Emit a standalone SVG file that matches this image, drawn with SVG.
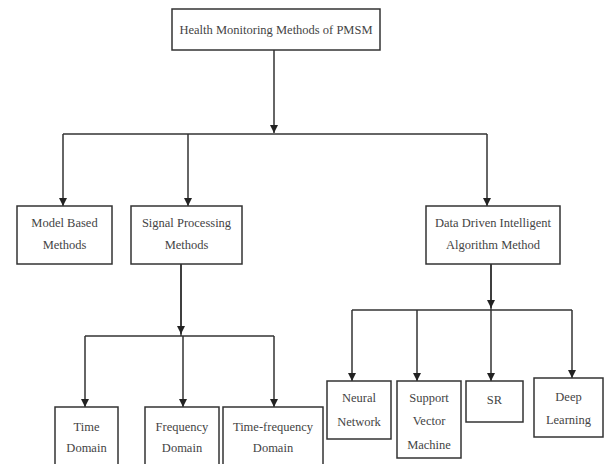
<svg xmlns="http://www.w3.org/2000/svg" width="604" height="464" viewBox="0 0 604 464">
<defs>
<marker id="arr" markerUnits="userSpaceOnUse" markerWidth="8" markerHeight="8" viewBox="0 0 8 8" refX="8" refY="4" orient="auto">
<path d="M0,0 L8,4 L0,8 Z" fill="#222"/>
</marker>
<style>
.box{fill:#fff;stroke:#333;stroke-width:1.5}
.t{font-family:"Liberation Serif","Times New Roman",serif;font-size:12.5px;fill:#444;text-anchor:middle}
.c{fill:none;stroke:#333;stroke-width:1.5}
</style>
</defs>
<rect width="604" height="464" fill="#fff"/>
<g id="connectors">
<path class="c" d="M274,50 V133" marker-end="url(#arr)"/>
<path class="c" d="M63,134 H487"/>
<path class="c" d="M63,134 V206" marker-end="url(#arr)"/>
<path class="c" d="M188,134 V206" marker-end="url(#arr)"/>
<path class="c" d="M487,134 V206" marker-end="url(#arr)"/>
<path class="c" d="M181,264 V336"/>
<path class="c" d="M181,264 V334" marker-end="url(#arr)"/>
<path class="c" d="M85,336 H274"/>
<path class="c" d="M85,336 V407" marker-end="url(#arr)"/>
<path class="c" d="M183,336 V407" marker-end="url(#arr)"/>
<path class="c" d="M274,336 V407" marker-end="url(#arr)"/>
<path class="c" d="M491,264 V310"/>
<path class="c" d="M491,264 V308" marker-end="url(#arr)"/>
<path class="c" d="M352,310 H572"/>
<path class="c" d="M352,310 V381" marker-end="url(#arr)"/>
<path class="c" d="M417,310 V381" marker-end="url(#arr)"/>
<path class="c" d="M491,310 V381" marker-end="url(#arr)"/>
<path class="c" d="M572,310 V378" marker-end="url(#arr)"/>
</g>
<g id="root">
<rect class="box" x="172" y="9" width="208" height="41"/>
<text class="t" x="276" y="34">Health Monitoring Methods of PMSM</text>
</g>
<g id="model">
<rect class="box" x="17" y="206" width="95" height="58"/>
<text class="t" x="64.5" y="227">Model Based</text>
<text class="t" x="64.5" y="249">Methods</text>
</g>
<g id="signal">
<rect class="box" x="131" y="206" width="111" height="58"/>
<text class="t" x="186.5" y="227">Signal Processing</text>
<text class="t" x="186.5" y="249">Methods</text>
</g>
<g id="data">
<rect class="box" x="426" y="206" width="134" height="58"/>
<text class="t" x="493" y="227">Data Driven Intelligent</text>
<text class="t" x="493" y="249">Algorithm Method</text>
</g>
<g id="time">
<rect class="box" x="55" y="407" width="63" height="64"/>
<text class="t" x="86.5" y="431">Time</text>
<text class="t" x="86.5" y="452">Domain</text>
</g>
<g id="freq">
<rect class="box" x="145" y="407" width="74" height="64"/>
<text class="t" x="182" y="431">Frequency</text>
<text class="t" x="182" y="452">Domain</text>
</g>
<g id="timefreq">
<rect class="box" x="223" y="407" width="100" height="64"/>
<text class="t" x="273" y="431">Time-frequency</text>
<text class="t" x="273" y="452">Domain</text>
</g>
<g id="neural">
<rect class="box" x="327" y="381" width="64" height="58"/>
<text class="t" x="359" y="402">Neural</text>
<text class="t" x="359" y="426">Network</text>
</g>
<g id="svm">
<rect class="box" x="397" y="381" width="64" height="77"/>
<text class="t" x="429" y="402">Support</text>
<text class="t" x="429" y="425">Vector</text>
<text class="t" x="429" y="449">Machine</text>
</g>
<g id="sr">
<rect class="box" x="466" y="381" width="57" height="41"/>
<text class="t" x="494.5" y="404">SR</text>
</g>
<g id="deep">
<rect class="box" x="534" y="378" width="69" height="59"/>
<text class="t" x="568.5" y="401">Deep</text>
<text class="t" x="568.5" y="424">Learning</text>
</g>
</svg>
